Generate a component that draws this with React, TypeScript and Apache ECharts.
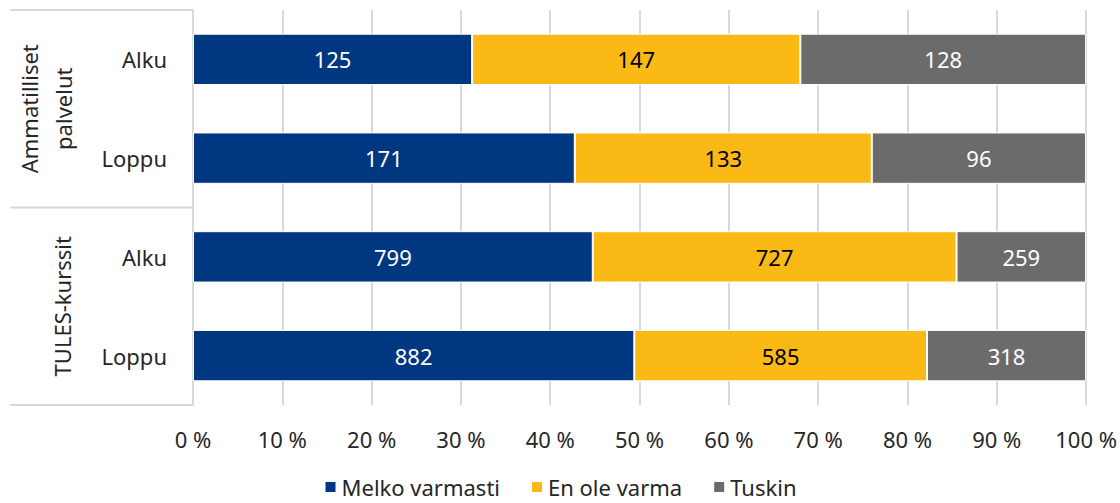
import React, { useEffect, useRef } from "react";
import * as echarts from "echarts";

const categories = ["Alku", "Loppu", "Alku", "Loppu"];
const groupLabels = [["Ammatilliset", "palvelut"], ["TULES-kurssit"]];
const seriesNames = ["Melko varmasti", "En ole varma", "Tuskin"];
const melkoVarmasti = [125, 171, 799, 882];
const enOleVarma = [147, 133, 727, 585];
const tuskin = [128, 96, 259, 318];
const xTicks = [0, 10, 20, 30, 40, 50, 60, 70, 80, 90, 100];

const colors = ["#003781", "#FBB916", "#6B6B6B"];
const labelColors = ["#FFFFFF", "#000000", "#FFFFFF"];
const FONT = "'Segoe UI', 'Noto Sans', sans-serif";
const FS = 22;

const W = 1120;
const H = 503;
const GRID_LEFT = 193;
const GRID_RIGHT = 29;
const GRID_TOP = 10;
const GRID_BOTTOM = 98;

export default function App() {
  const ref = useRef<HTMLDivElement>(null);
  useEffect(() => {
    if (!ref.current) return;
    const chart = echarts.init(ref.current, undefined, { renderer: "svg" });
    const raw = [melkoVarmasti, enOleVarma, tuskin];
    const totals = categories.map((_, i) => raw.reduce((s, a) => s + a[i], 0));
    const plotH = H - GRID_TOP - GRID_BOTTOM;
    const groupSize = 2;
    const rowH = plotH / categories.length;
    const lineColor = "#D9D9D9";

    const graphics: any[] = [];
    for (let g = 0; g <= groupLabels.length; g++) {
      const y = GRID_TOP + g * groupSize * rowH;
      graphics.push({
        type: "line",
        shape: { x1: 10, y1: y, x2: GRID_LEFT, y2: y },
        style: { stroke: lineColor, lineWidth: 2 },
      });
    }
    groupLabels.forEach((lines, g) => {
      const cy = GRID_TOP + (g * groupSize + groupSize / 2) * rowH;
      const xs = lines.length === 1 ? [62] : [29, 63];
      lines.forEach((t, k) => {
        graphics.push({
          type: "text",
          x: xs[k],
          y: cy,
          rotation: Math.PI / 2,
          style: {
            text: t,
            align: "center",
            verticalAlign: "middle",
            fontSize: FS,
            fontFamily: FONT,
            fill: "#262626",
          },
        });
      });
    });

    chart.setOption({
      animation: false,
      grid: {
        left: GRID_LEFT,
        right: GRID_RIGHT,
        top: GRID_TOP,
        bottom: GRID_BOTTOM,
        containLabel: false,
      },
      legend: {
        data: seriesNames,
        top: 471,
        left: "center",
        itemWidth: 12,
        itemHeight: 12,
        itemGap: 30,
        icon: "rect",
        textStyle: { fontSize: FS, fontFamily: FONT, color: "#262626" },
      },
      xAxis: {
        type: "value",
        min: xTicks[0],
        max: xTicks[xTicks.length - 1],
        interval: 10,
        axisLine: { show: false },
        axisTick: { show: false },
        splitLine: { lineStyle: { color: lineColor, width: 2 } },
        axisLabel: {
          formatter: "{value} %",
          fontSize: FS,
          fontFamily: FONT,
          color: "#262626",
          margin: 23,
        },
      },
      yAxis: {
        type: "category",
        data: categories,
        inverse: true,
        axisLine: { show: true, lineStyle: { color: lineColor, width: 2 } },
        axisTick: { show: false },
        axisLabel: {
          fontSize: FS,
          fontFamily: FONT,
          color: "#262626",
          margin: 26,
        },
      },
      graphic: graphics,
      series: seriesNames.map((name, si) => ({
        name,
        type: "bar",
        stack: "total",
        barCategoryGap: "48%",
        itemStyle: { color: colors[si], borderColor: "#FFFFFF", borderWidth: 1 },
        label: {
          show: true,
          position: "inside",
          color: labelColors[si],
          fontSize: FS,
          fontFamily: FONT,
          formatter: (p: any) => String(raw[si][p.dataIndex]),
        },
        data: raw[si].map((v, i) => (v / totals[i]) * 100),
      })),
    });
    return () => chart.dispose();
  }, []);
  return <div ref={ref} style={{ width: W, height: H, position: "absolute", left: 0, top: 0 }} />;
}
